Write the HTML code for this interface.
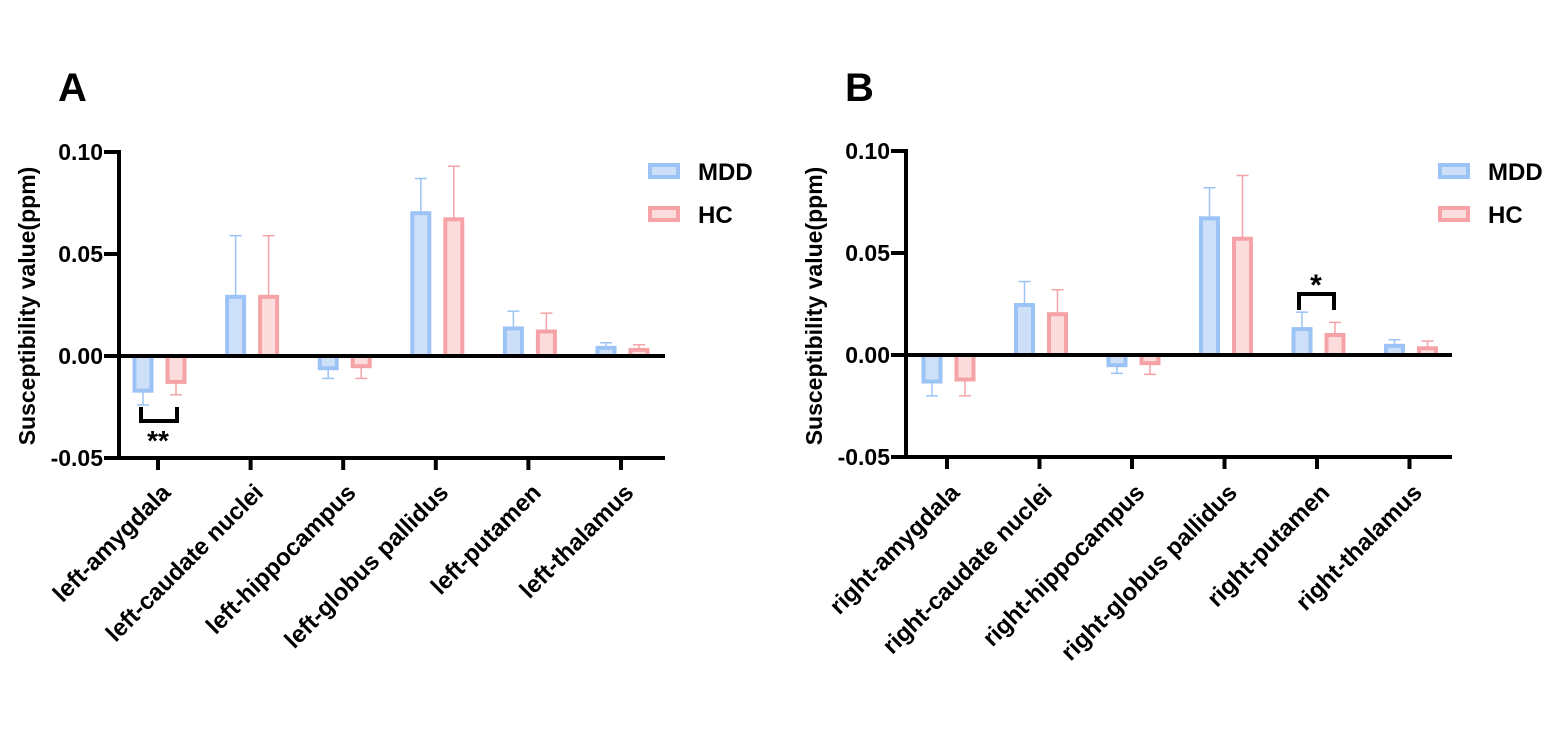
<!DOCTYPE html>
<html><head><meta charset="utf-8"><style>
html,body{margin:0;padding:0;background:#fff;}
svg{display:block;font-family:"Liberation Sans",Arial,sans-serif;font-weight:bold;}
</style></head><body>
<svg id="chart" width="1558" height="733" viewBox="0 0 1558 733" xmlns="http://www.w3.org/2000/svg"></svg>
<script>
const catsA = ["left-amygdala","left-caudate nuclei","left-hippocampus","left-globus pallidus","left-putamen","left-thalamus"];
const catsB = ["right-amygdala","right-caudate nuclei","right-hippocampus","right-globus pallidus","right-putamen","right-thalamus"];
const mddA = [-0.017, 0.029, -0.006, 0.070, 0.0135, 0.004];
const mddErrA = [-0.024, 0.059, -0.011, 0.087, 0.022, 0.0065];
const hcA = [-0.0127, 0.029, -0.005, 0.067, 0.012, 0.003];
const hcErrA = [-0.019, 0.059, -0.011, 0.093, 0.021, 0.0055];
const mddB = [-0.013, 0.0245, -0.005, 0.067, 0.0127, 0.0045];
const mddErrB = [-0.020, 0.036, -0.009, 0.082, 0.021, 0.0075];
const hcB = [-0.012, 0.020, -0.004, 0.057, 0.0098, 0.0033];
const hcErrB = [-0.020, 0.032, -0.0095, 0.088, 0.016, 0.0068];
const yTicks = [0.10, 0.05, 0.00, -0.05];
const yTickLabels = ["0.10","0.05","0.00","-0.05"];
const seriesNames = ["MDD","HC"];

const NS="http://www.w3.org/2000/svg";
const svg=document.getElementById('chart');
function mk(tag,attrs,parent){const e=document.createElementNS(NS,tag);for(const k in attrs)e.setAttribute(k,attrs[k]);(parent||svg).appendChild(e);return e;}
const colors=[{s:"#9cc3f5",f:"#cde0f8"},{s:"#f5a3a6",f:"#fddcde"}];

function panel(p){
  const g=mk('g',{});
  
  
  const y=v=>p.y0-(v/0.05)*102;
  const x=i=>p.x0+i*p.step;
  const L=mk('text',{x:p.ax-61,y:101,'font-size':40},g);L.textContent=p.letter;
  
  const yt=mk('text',{x:0,y:0,'font-size':23,'text-anchor':'middle',transform:`translate(${p.ax-84},306) rotate(-90)`},g);
  yt.textContent="Susceptibility value(ppm)";
  
  const sets=[[p.mdd,p.mddErr],[p.hc,p.hcErr]];
  sets.forEach((s,si)=>{
    s[0].forEach((v,i)=>{
      const cx=x(i)+(si===0?-15:18);
      const top=Math.min(y(v),y(0)),bot=Math.max(y(v),y(0));
      const e=s[1][i];
      const el=mk('line',{x1:cx,x2:cx,y1:y(v),y2:y(e),stroke:colors[si].s,'stroke-width':1.5},g);
      
      const cap=mk('line',{x1:cx-6,x2:cx+6,y1:y(e),y2:y(e),stroke:colors[si].s,'stroke-width':1.5},g);
      
      const r=mk('rect',{x:cx-8.5,y:top,width:17,height:Math.max(bot-top,0.1),fill:colors[si].f,stroke:colors[si].s,'stroke-width':4},g);
      
    });
  });
  const ya=mk('line',{x1:p.ax,x2:p.ax,y1:y(0.10)-2,y2:y(-0.05)+2,stroke:'#000','stroke-width':4},g);
  
  const zl=mk('line',{x1:p.ax,x2:p.axEnd,y1:y(0),y2:y(0),stroke:'#000','stroke-width':4},g);
  
  const xa=mk('line',{x1:p.ax-2,x2:p.axEnd,y1:y(-0.05),y2:y(-0.05),stroke:'#000','stroke-width':4},g);
  
  yTicks.forEach((t,i)=>{
    const tk=mk('line',{x1:p.ax-15,x2:p.ax,y1:y(t),y2:y(t),stroke:'#000','stroke-width':4},g);
    
    const tl=mk('text',{x:p.ax-16,y:y(t)+8,'font-size':23,'text-anchor':'end'},g);
    tl.textContent=yTickLabels[i];
    
  });
  p.cats.forEach((c,i)=>{
    const tk=mk('line',{x1:x(i),x2:x(i),y1:y(-0.05),y2:y(-0.05)+12,stroke:'#000','stroke-width':4},g);
    
    const tl=mk('text',{x:0,y:0,'font-size':24,'text-anchor':'end',transform:`translate(${x(i)+14},494) rotate(-45)`},g);
    tl.textContent=c;
    
  });
  seriesNames.forEach((n,si)=>{
    const ly=171+si*43;
    const r=mk('rect',{x:p.legX+2,y:ly-6,width:28,height:12,fill:colors[si].f,stroke:colors[si].s,'stroke-width':4},g);
    
    const t=mk('text',{x:p.legX+50,y:ly+9,'font-size':24},g);t.textContent=n;
    
  });
  const s=p.sig;
  const pth=mk('path',{d:s.d,fill:'none',stroke:'#000','stroke-width':4},g);
  
  const st=mk('text',{x:s.tx,y:s.ty,'font-size':s.fs,'text-anchor':'middle'},g);st.textContent=s.text;
  
}
panel({letter:'A',ax:119,axEnd:665,y0:356,x0:158,step:92.6,cats:catsA,mdd:mddA,mddErr:mddErrA,hc:hcA,hcErr:hcErrA,legX:648,
  sig:{d:'M141 407 L141 421 L177 421 L177 407',text:'**',tx:158,ty:450,fs:28}});
panel({letter:'B',ax:906,axEnd:1452,y0:355,x0:947,step:92.5,cats:catsB,mdd:mddB,mddErr:mddErrB,hc:hcB,hcErr:hcErrB,legX:1438,
  sig:{d:'M1299 310 L1299 294 L1334 294 L1334 310',text:'*',tx:1316,ty:295,fs:30}});
</script>
</body></html>
